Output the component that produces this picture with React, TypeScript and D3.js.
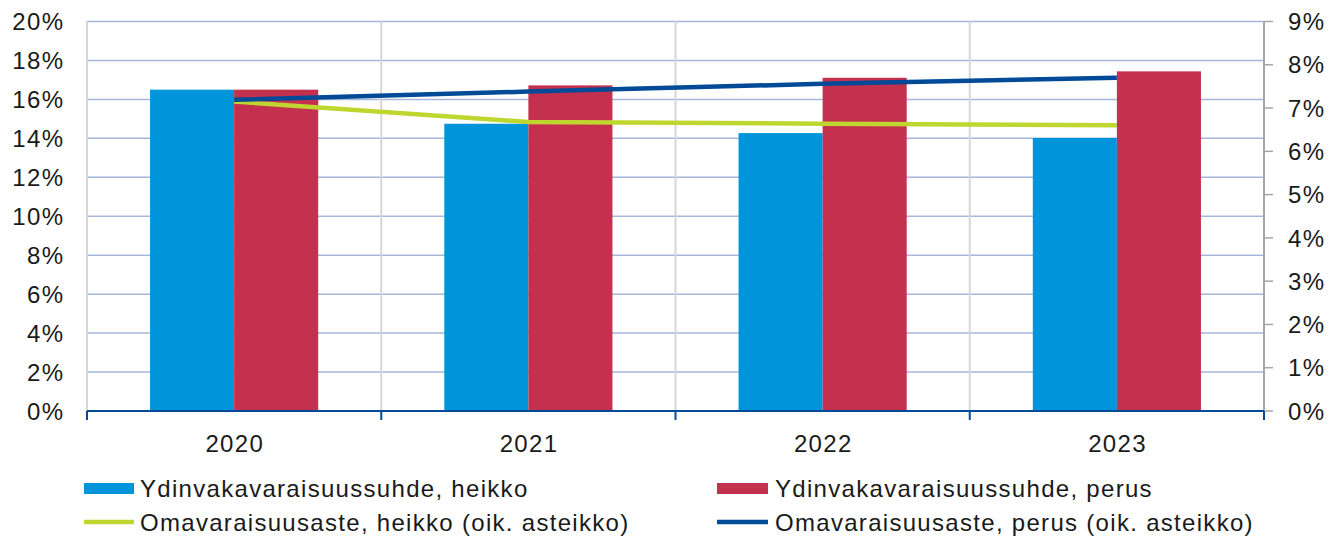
import React from "react";
import * as d3 from "d3";

const categories = ["2020", "2021", "2022", "2023"];
const ydinHeikko = [16.5, 14.75, 14.27, 14.02];
const ydinPerus = [16.5, 16.72, 17.11, 17.44];
const omaHeikko = [7.15, 6.68, 6.64, 6.6];
const omaPerus = [7.19, 7.38, 7.56, 7.7];
const leftTicks = [0, 2, 4, 6, 8, 10, 12, 14, 16, 18, 20];
const rightTicks = [0, 1, 2, 3, 4, 5, 6, 7, 8, 9];
const legendLabels = [
  "Ydinvakavaraisuussuhde, heikko",
  "Ydinvakavaraisuussuhde, perus",
  "Omavaraisuusaste, heikko (oik. asteikko)",
  "Omavaraisuusaste, perus (oik. asteikko)",
];

const W = 1338;
const H = 537;
const M = { left: 87, right: 1264, top: 21.5, bottom: 411 };
const C = {
  blue: "#0095DA",
  red: "#C3314F",
  green: "#BED62F",
  navy: "#004A97",
  hgrid: "#A5B8D9",
  vgrid: "#D6D6D6",
  text: "#1A1A1A",
};
const FONT = "'Liberation Sans', Arial, sans-serif";
const FS = 24;
const LS = 1.3;

export default function App() {
  const x0 = d3.scaleBand<string>().domain(categories).range([M.left, M.right]).padding(0);
  const bw = x0.bandwidth();
  const barW = bw / 3.5;
  const x1 = d3.scaleBand<string>().domain(["h", "p"]).range([bw / 2 - barW, bw / 2 + barW]);
  const yL = d3.scaleLinear().domain([0, 20]).range([M.bottom, M.top]);
  const yR = d3.scaleLinear().domain([0, 9]).range([M.bottom, M.top]);
  const cx = (c: string) => (x0(c) as number) + bw / 2;

  const lineGen = (vals: number[]) =>
    d3
      .line<number>()
      .x((_, i) => cx(categories[i]))
      .y((v) => yR(v))(vals) as string;

  const boundaries = [...categories.map((c) => x0(c) as number), M.right];
  const tprops = { fontSize: FS, fill: C.text, letterSpacing: LS };

  return (
    <svg
      width={W}
      height={H}
      style={{ position: "absolute", left: 0, top: 0, background: "#fff" }}
      fontFamily={FONT}
    >
      <rect width={W} height={H} fill="#fff" />
      {leftTicks.map((t) =>
        t === 0 ? null : (
          <line key={"hg" + t} x1={M.left} x2={M.right} y1={yL(t)} y2={yL(t)} stroke={C.hgrid} strokeWidth={1.5} />
        )
      )}
      {boundaries.slice(0, -1).map((b, i) => (
        <line key={"vg" + i} x1={b} x2={b} y1={M.top} y2={M.bottom} stroke={C.vgrid} strokeWidth={2} />
      ))}
      {categories.map((c, i) => (
        <g key={"b" + c} transform={`translate(${x0(c)},0)`}>
          <rect x={x1("h")} y={yL(ydinHeikko[i])} width={x1.bandwidth()} height={M.bottom - yL(ydinHeikko[i])} fill={C.blue} />
          <rect x={x1("p")} y={yL(ydinPerus[i])} width={x1.bandwidth()} height={M.bottom - yL(ydinPerus[i])} fill={C.red} />
        </g>
      ))}
      <path d={lineGen(omaHeikko)} fill="none" stroke={C.green} strokeWidth={4.5} />
      <path d={lineGen(omaPerus)} fill="none" stroke={C.navy} strokeWidth={4.5} />
      <line x1={M.right} x2={M.right} y1={M.top} y2={M.bottom} stroke="#A6A6A6" strokeWidth={2} />
      {rightTicks.map((t) => (
        <g key={"rt" + t}>
          <line x1={M.right} x2={M.right + 9} y1={yR(t)} y2={yR(t)} stroke="#A6A6A6" strokeWidth={1.5} />
          <text x={1288} y={yR(t)} dy="0.36em" {...tprops}>
            {t + "%"}
          </text>
        </g>
      ))}
      {leftTicks.map((t) => (
        <text key={"lt" + t} x={63 + LS} y={yL(t)} dy="0.36em" textAnchor="end" {...tprops}>
          {t + "%"}
        </text>
      ))}
      <line x1={M.left} x2={M.right} y1={M.bottom} y2={M.bottom} stroke={C.navy} strokeWidth={2} />
      {boundaries.map((b, i) => (
        <line key={"bt" + i} x1={b} x2={b} y1={M.bottom} y2={M.bottom + 9} stroke={C.navy} strokeWidth={2} />
      ))}
      {categories.map((c) => (
        <text key={"cl" + c} x={cx(c) + LS / 2} y={452} textAnchor="middle" {...tprops}>
          {c}
        </text>
      ))}
      <rect x={84} y={483} width={50} height={11} fill={C.blue} />
      <text x={140} y={497} {...tprops}>{legendLabels[0]}</text>
      <rect x={717} y={483} width={51} height={11} fill={C.red} />
      <text x={775} y={497} {...tprops}>{legendLabels[1]}</text>
      <line x1={84} x2={134} y1={522} y2={522} stroke={C.green} strokeWidth={4.5} />
      <text x={140} y={531} {...tprops}>{legendLabels[2]}</text>
      <line x1={717} x2={768} y1={522} y2={522} stroke={C.navy} strokeWidth={4.5} />
      <text x={775} y={531} {...tprops}>{legendLabels[3]}</text>
    </svg>
  );
}
